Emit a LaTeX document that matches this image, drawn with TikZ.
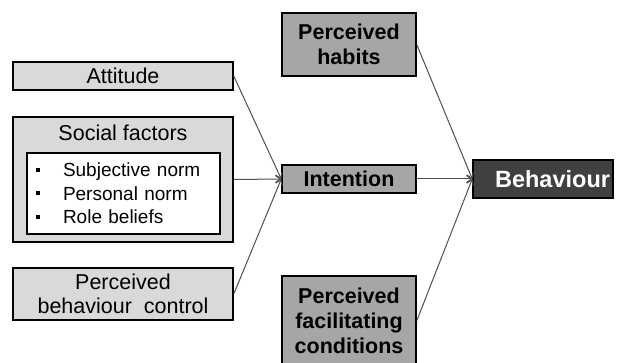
\documentclass[tikz,border=0pt]{standalone}
\usepackage{fontspec}
\setmainfont{Liberation Sans}
\usetikzlibrary{positioning,arrows.meta}
\definecolor{lightbox}{RGB}{217,217,217}
\definecolor{midbox}{RGB}{166,166,166}
\definecolor{darkbox}{RGB}{64,64,64}
\definecolor{linkgray}{RGB}{80,80,80}
\newcommand{\bul}{\makebox[27pt][l]{\rule[5pt]{4pt}{4pt}}}

\begin{document}
\begin{tikzpicture}[x=1pt,y=-1pt,
  box/.style={draw=black,line width=1.5pt,inner sep=0pt,align=center,
    font=\fontsize{21.5}{24}\selectfont},
  leftbox/.style={box,fill=lightbox,minimum width=220pt},
  midbox/.style={box,fill=midbox,minimum width=134pt,font=\fontsize{21.5}{25}\selectfont\bfseries},
  outbox/.style={box,fill=darkbox,text=white,font=\fontsize{23.5}{26}\selectfont\bfseries},
  listbox/.style={draw=black,line width=1.5pt,fill=white,align=left,inner xsep=9pt,
    inner ysep=0pt,minimum width=193pt,minimum height=81pt,
    font=\fontsize{19}{23.5}\selectfont},
  link/.style={draw=linkgray,line width=1pt,-{Straight Barb[length=5pt,width=7pt]}}]

  \useasboundingbox (0,0) rectangle (620,363);

  % left column
  \node[leftbox,minimum height=28pt] (attitude) at (123,76) {Attitude};
  \node[leftbox,minimum height=125pt] (social) at (123,179.5) {};
  \node[below=5pt of social.north,font=\fontsize{21.5}{24}\selectfont] (socialtitle) {Social factors};
  \node[listbox,text width=175pt] (norms) at (123.5,193.5)
    {\bul Subjective norm\\ \bul Personal norm\\ \bul Role beliefs};
  \node[leftbox,minimum height=52pt] (control) at (123,294) {Perceived\\ behaviour\ \ control};

  % middle column
  \node[midbox,minimum height=63pt] (habits) at (349,44.5) {Perceived\\ habits};
  \node[midbox,minimum height=28pt] (intention) at (349,179) {Intention};
  \node[midbox,minimum height=90pt,anchor=north] (facil) at (349,275)
    {Perceived\\ facilitating\\ conditions};

  % right
  \node[outbox,minimum height=38pt,text width=134pt,align=right,inner xsep=3pt] (behaviour)
    at (543,179) {Behaviour};

  % links
  \draw[link] (attitude.east) -- (intention.west);
  \draw[link] (social.east) -- (intention.west);
  \draw[link] (control.east) -- (intention.west);
  \draw[link] (habits.east) -- (behaviour.west);
  \draw[link] (intention.east) -- (behaviour.west);
  \draw[link] (facil.east) -- (behaviour.west);

\end{tikzpicture}
\end{document}
